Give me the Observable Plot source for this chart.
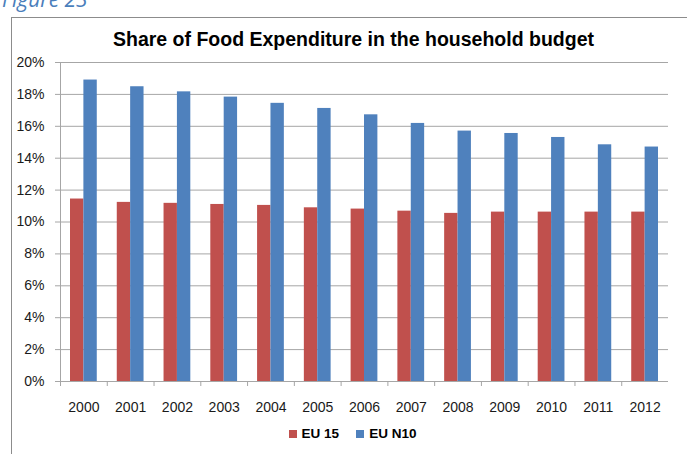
<!DOCTYPE html>
<html><head><meta charset="utf-8">
<script src="https://cdn.jsdelivr.net/npm/d3@7"></script>
<script src="https://cdn.jsdelivr.net/npm/@observablehq/plot@0.6"></script>
<style>
body{margin:0;background:#fff;font-family:"Liberation Sans",Arial,sans-serif;}
#wrap{position:relative;width:687px;height:454px;overflow:hidden;background:#fff;}
#fig{position:absolute;left:2px;top:-15px;font-style:italic;font-size:21px;color:#4a7ebb;font-family:"Open Sans",sans-serif;white-space:nowrap;}
#frame{position:absolute;left:11px;top:17px;width:690px;height:450px;border-top:1px solid #8c8c8c;border-left:1px solid #8c8c8c;}
#title{position:absolute;top:28px;left:10px;width:687px;text-align:center;font-weight:bold;font-size:19.5px;color:#000;white-space:nowrap;}
#chart{position:absolute;top:50px;left:0;}
#legend{position:absolute;top:426px;left:0;width:687px;display:flex;justify-content:center;gap:17px;font-weight:bold;font-size:13.5px;color:#000;padding-left:18px;box-sizing:border-box;}
#legend span.sw{display:inline-block;width:8px;height:8px;margin-right:5px;vertical-align:0px;}
g[aria-label="y-axis"] .tick line, g[aria-label="y-axis tick"] path{stroke:#a6a6a6;}
g[aria-label="y-axis"] .domain, g[aria-label="x-axis"] .domain{display:none;}
</style>
</head><body>
<div id="wrap">
  <div id="fig">Figure 23</div>
  <div id="frame"></div>
  <div id="title">Share of Food Expenditure in the household budget</div>
  <div id="chart"></div>
  <div id="legend"></div>
</div>
<script>
const years = ["2000","2001","2002","2003","2004","2005","2006","2007","2008","2009","2010","2011","2012"];
const seriesNames = ["EU 15","EU N10"];
const eu15 = [11.44,11.23,11.17,11.10,11.04,10.89,10.81,10.68,10.54,10.62,10.62,10.62,10.62];
const euN10 = [18.90,18.48,18.16,17.83,17.44,17.12,16.72,16.18,15.70,15.55,15.30,14.84,14.70];
const seriesColors = ["#c0504d","#4f81bd"];
const yTicks = [0,2,4,6,8,10,12,14,16,18,20];

const rows15 = years.map((y,i)=>({year:y, series:seriesNames[0], value:eu15[i]}));
const rowsN10 = years.map((y,i)=>({year:y, series:seriesNames[1], value:euN10[i]}));
const grid = "#a6a6a6";
const half = 608/13/2;

const chart = Plot.plot({
  width: 687, height: 370,
  marginLeft: 60, marginRight: 19, marginTop: 12, marginBottom: 39,
  style: {fontFamily: '"Liberation Sans", Arial, sans-serif', fontSize: "14px", color: "#1a1a1a", background: "transparent", overflow: "visible"},
  x: {domain: years, padding: 0, round: false, label: null, tickSize: 0, tickPadding: 21},
  y: {domain: [0,20], ticks: yTicks, tickFormat: d => d + "%", label: null, tickSize: 5, tickPadding: 11},
  marks: [
    Plot.ruleY(yTicks.slice(1), {stroke: grid, strokeWidth: 1}),
    Plot.barY(rows15, {x: "year", y: "value", fill: seriesColors[0], insetLeft: 10, insetRight: half}),
    Plot.barY(rowsN10, {x: "year", y: "value", fill: seriesColors[1], insetLeft: half, insetRight: 10}),
    Plot.ruleY([0], {stroke: grid}),
    Plot.ruleX([years[0]], {x: d => d, dx: -half, stroke: grid}),
    Plot.ruleX(years, {x: d => d, y1: 0, y2: 0, insetBottom: -5, dx: -half, stroke: grid})
  ]
});
document.getElementById("chart").appendChild(chart);

const legend = document.getElementById("legend");
seriesNames.forEach((n,i)=>{
  const item = document.createElement("div");
  item.innerHTML = `<span class="sw" style="background:${seriesColors[i]}"></span>${n}`;
  legend.appendChild(item);
});
</script>
</body></html>
